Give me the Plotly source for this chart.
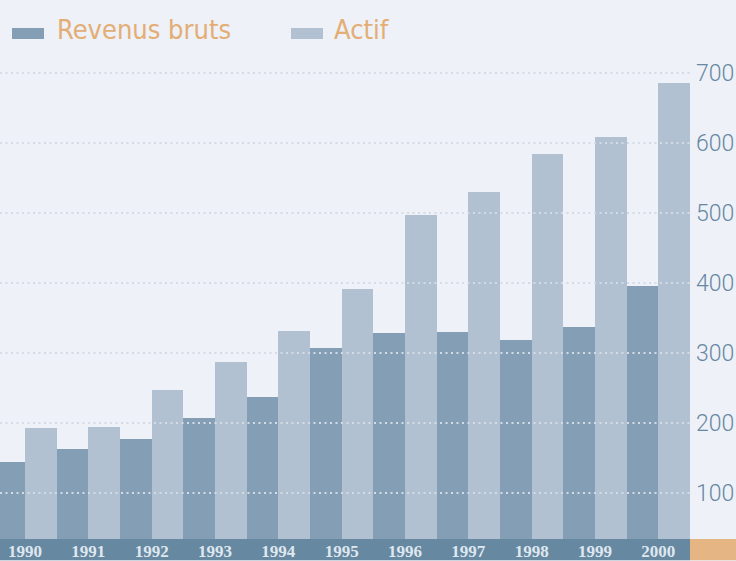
import plotly.graph_objects as go

years = ["1990", "1991", "1992", "1993", "1994", "1995", "1996", "1997", "1998", "1999", "2000"]
revenus_bruts = [144, 163, 177, 207, 237, 307, 329, 330, 319, 337, 396]
actif = [193, 194, 247, 287, 331, 391, 497, 530, 584, 609, 686]
y_ticks = [100, 200, 300, 400, 500, 600, 700]

W, H = 736, 561
plot_right = 690 / W
band_h = 22 / H

BG = "#eef1f7"
DARK = "#849eb5"
LIGHT = "#b1c1d2"
BAND = "#6688a1"
ORANGE = "#e6b584"
LEG_TXT = "#e3ad74"
TICK_Y = "#6688a3"

fig = go.Figure()
fig.add_trace(go.Bar(x=years, y=revenus_bruts, name="Revenus bruts", marker=dict(color=DARK, line=dict(width=0))))
fig.add_trace(go.Bar(x=years, y=actif, name="Actif", marker=dict(color=LIGHT, line=dict(width=0))))

shapes = []
for v in y_ticks:
    shapes.append(dict(type="line", xref="paper", yref="y", x0=0, x1=plot_right, y0=v, y1=v,
                       line=dict(color="#d3dbe5", width=2, dash="2px,3.5px"), layer="above"))
shapes.append(dict(type="rect", xref="paper", yref="paper", x0=0, x1=plot_right, y0=-band_h, y1=0,
                   fillcolor=BAND, line=dict(width=0), layer="below"))
shapes.append(dict(type="rect", xref="paper", yref="paper", x0=plot_right, x1=1, y0=-band_h, y1=0,
                   fillcolor=ORANGE, line=dict(width=0), layer="below"))
# legend swatches
shapes.append(dict(type="rect", xref="paper", yref="paper", x0=12 / W, x1=44 / W,
                   y0=1 - 39 / (H - 22), y1=1 - 28 / (H - 22), fillcolor=DARK, line=dict(width=0)))
shapes.append(dict(type="rect", xref="paper", yref="paper", x0=291 / W, x1=323 / W,
                   y0=1 - 39 / (H - 22), y1=1 - 28 / (H - 22), fillcolor=LIGHT, line=dict(width=0)))

leg_font = dict(family="Liberation Sans Narrow, DejaVu Sans Condensed, sans-serif", size=27, color=LEG_TXT)
annotations = [
    dict(text="Revenus bruts", xref="paper", yref="paper", x=55 / W, y=1 - 29 / (H - 22),
         xanchor="left", yanchor="middle", showarrow=False, font=leg_font),
    dict(text="Actif", xref="paper", yref="paper", x=332 / W, y=1 - 29 / (H - 22),
         xanchor="left", yanchor="middle", showarrow=False, font=leg_font),
]

fig.update_layout(
    width=W, height=H,
    margin=dict(l=0, r=0, t=0, b=22, pad=0),
    paper_bgcolor=BG, plot_bgcolor=BG,
    barmode="group", bargap=0, bargroupgap=0,
    showlegend=False,
    shapes=shapes, annotations=annotations,
    xaxis=dict(domain=[0, plot_right], range=[-0.395, 10.5], type="category",
               showgrid=False, zeroline=False, showline=False, ticks="", automargin=False,
               tickfont=dict(family="Liberation Serif, serif", size=17, color="#dfe7ef", weight="bold"),
               ticklabelstandoff=0),
    yaxis=dict(range=[34.3, 804.3], side="right", tickvals=y_ticks, showgrid=False,
               zeroline=False, showline=False, ticks="", automargin=False,
               tickfont=dict(family="Roboto, sans-serif", size=23, color=TICK_Y, weight=300),
               ticklabelstandoff=5),
)

fig.write_html("out.html")
